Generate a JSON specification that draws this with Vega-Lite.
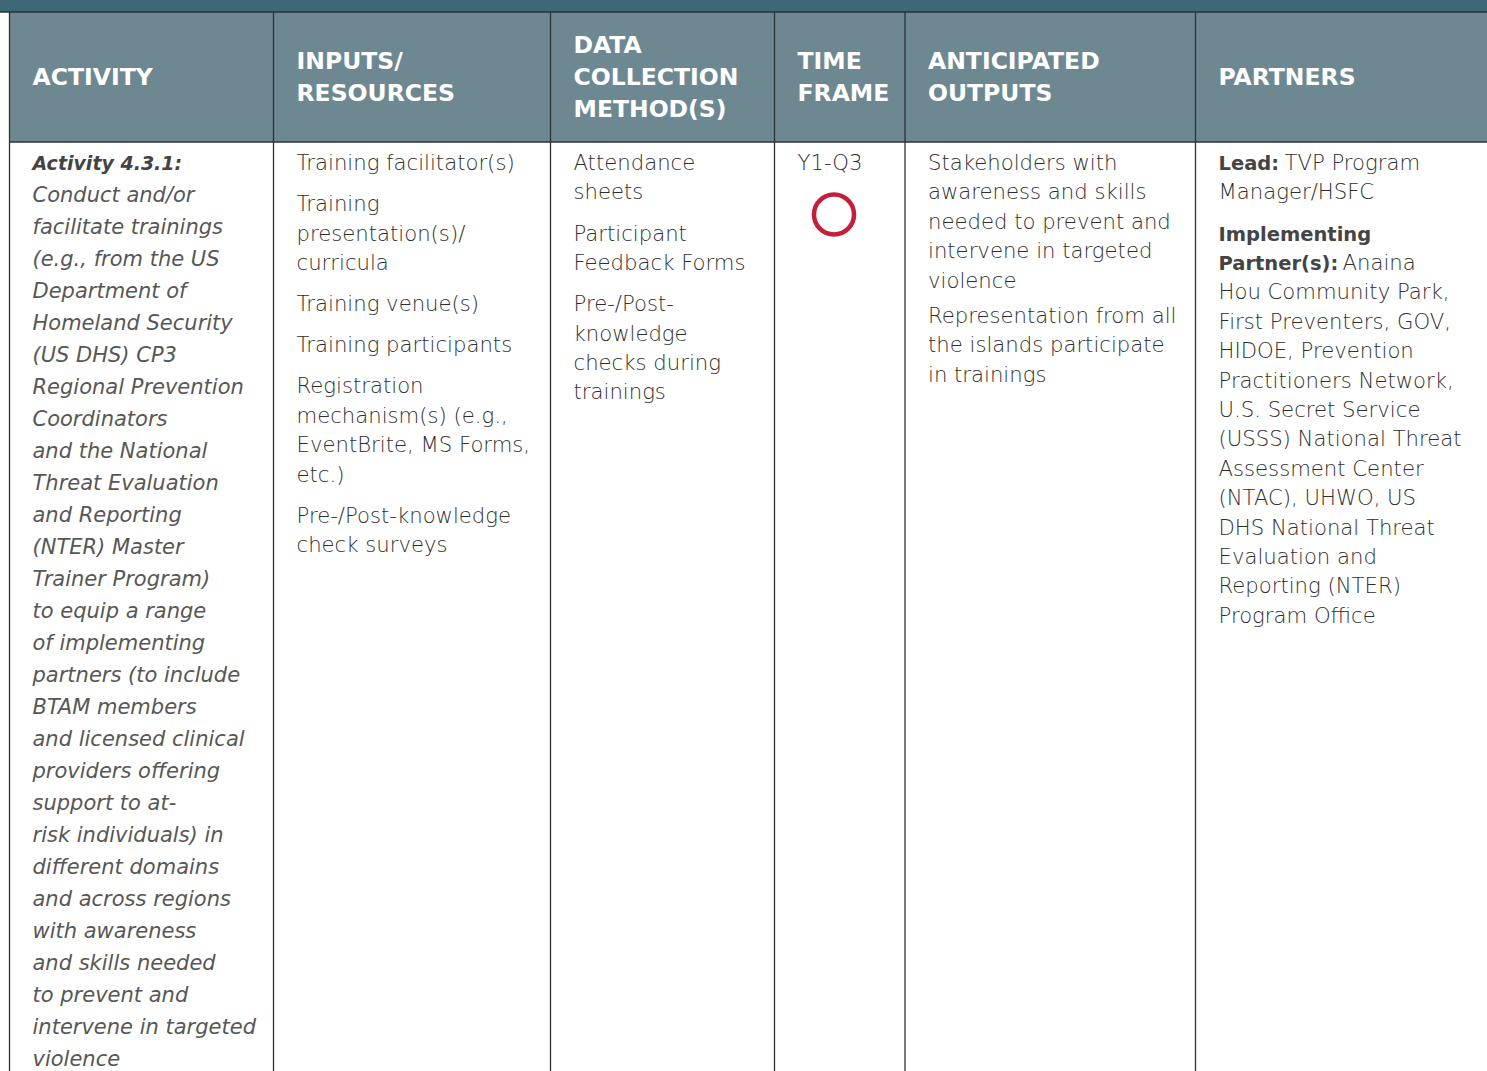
{
"$schema": "https://vega.github.io/schema/vega-lite/v6.json",
"width": 1487, "height": 1071, "padding": 0, "autosize": "none",
"background": "white",
"config": {"view": {"stroke": null}},
"datasets": {
 "bands": [
  {"part": "title band", "col": 0, "col2": 7, "row": 0, "row2": 1},
  {"part": "header", "col": 1, "col2": 7, "row": 1, "row2": 2}
 ],
 "rules": [
  {"col": 0, "col2": 7, "row": 1, "row2": 1},
  {"col": 1, "col2": 7, "row": 2, "row2": 2},
  {"col": 1, "col2": 1, "row": 1, "row2": 3},
  {"col": 2, "col2": 2, "row": 1, "row2": 3},
  {"col": 3, "col2": 3, "row": 1, "row2": 3},
  {"col": 4, "col2": 4, "row": 1, "row2": 3},
  {"col": 5, "col2": 5, "row": 1, "row2": 3},
  {"col": 6, "col2": 6, "row": 1, "row2": 3}
 ],
 "header": [
  {"col": 1, "line": 1, "text": "ACTIVITY"},
  {"col": 2, "line": 0.5, "text": "INPUTS/"},
  {"col": 2, "line": 1.5, "text": "RESOURCES"},
  {"col": 3, "line": 0, "text": "DATA"},
  {"col": 3, "line": 1, "text": "COLLECTION"},
  {"col": 3, "line": 2, "text": "METHOD(S)"},
  {"col": 4, "line": 0.5, "text": "TIME"},
  {"col": 4, "line": 1.5, "text": "FRAME"},
  {"col": 5, "line": 0.5, "text": "ANTICIPATED"},
  {"col": 5, "line": 1.5, "text": "OUTPUTS"},
  {"col": 6, "line": 1, "text": "PARTNERS"}
 ],
 "activityLead": [{"col": 1, "line": 0, "text": "Activity 4.3.1:"}],
 "activity": [
  {"col": 1, "line": 1, "text": "Conduct and/or"},
  {"col": 1, "line": 2, "text": "facilitate trainings"},
  {"col": 1, "line": 3, "text": "(e.g., from the US"},
  {"col": 1, "line": 4, "text": "Department of"},
  {"col": 1, "line": 5, "text": "Homeland Security"},
  {"col": 1, "line": 6, "text": "(US DHS) CP3"},
  {"col": 1, "line": 7, "text": "Regional Prevention"},
  {"col": 1, "line": 8, "text": "Coordinators"},
  {"col": 1, "line": 9, "text": "and the National"},
  {"col": 1, "line": 10, "text": "Threat Evaluation"},
  {"col": 1, "line": 11, "text": "and Reporting"},
  {"col": 1, "line": 12, "text": "(NTER) Master"},
  {"col": 1, "line": 13, "text": "Trainer Program)"},
  {"col": 1, "line": 14, "text": "to equip a range"},
  {"col": 1, "line": 15, "text": "of implementing"},
  {"col": 1, "line": 16, "text": "partners (to include"},
  {"col": 1, "line": 17, "text": "BTAM members"},
  {"col": 1, "line": 18, "text": "and licensed clinical"},
  {"col": 1, "line": 19, "text": "providers offering"},
  {"col": 1, "line": 20, "text": "support to at-"},
  {"col": 1, "line": 21, "text": "risk individuals) in"},
  {"col": 1, "line": 22, "text": "different domains"},
  {"col": 1, "line": 23, "text": "and across regions"},
  {"col": 1, "line": 24, "text": "with awareness"},
  {"col": 1, "line": 25, "text": "and skills needed"},
  {"col": 1, "line": 26, "text": "to prevent and"},
  {"col": 1, "line": 27, "text": "intervene in targeted"},
  {"col": 1, "line": 28, "text": "violence"}
 ],
 "body": [
  {"col": 2, "line": 0, "text": "Training facilitator(s)"},
  {"col": 2, "line": 1.4, "text": "Training"},
  {"col": 2, "line": 2.4, "text": "presentation(s)/"},
  {"col": 2, "line": 3.4, "text": "curricula"},
  {"col": 2, "line": 4.8, "text": "Training venue(s)"},
  {"col": 2, "line": 6.2, "text": "Training participants"},
  {"col": 2, "line": 7.6, "text": "Registration"},
  {"col": 2, "line": 8.6, "text": "mechanism(s) (e.g.,"},
  {"col": 2, "line": 9.6, "text": "EventBrite, MS Forms,"},
  {"col": 2, "line": 10.6, "text": "etc.)"},
  {"col": 2, "line": 12, "text": "Pre-/Post-knowledge"},
  {"col": 2, "line": 13, "text": "check surveys"},
  {"col": 3, "line": 0, "text": "Attendance"},
  {"col": 3, "line": 1, "text": "sheets"},
  {"col": 3, "line": 2.4, "text": "Participant"},
  {"col": 3, "line": 3.4, "text": "Feedback Forms"},
  {"col": 3, "line": 4.8, "text": "Pre-/Post-"},
  {"col": 3, "line": 5.8, "text": "knowledge"},
  {"col": 3, "line": 6.8, "text": "checks during"},
  {"col": 3, "line": 7.8, "text": "trainings"},
  {"col": 4, "line": 0, "text": "Y1-Q3"},
  {"col": 5, "line": 0, "text": "Stakeholders with"},
  {"col": 5, "line": 1, "text": "awareness and skills"},
  {"col": 5, "line": 2, "text": "needed to prevent and"},
  {"col": 5, "line": 3, "text": "intervene in targeted"},
  {"col": 5, "line": 4, "text": "violence"},
  {"col": 5, "line": 5.2, "text": "Representation from all"},
  {"col": 5, "line": 6.2, "text": "the islands participate"},
  {"col": 5, "line": 7.2, "text": "in trainings"},
  {"col": 6, "line": 1, "text": "Manager/HSFC"},
  {"col": 6, "line": 4.4, "text": "Hou Community Park,"},
  {"col": 6, "line": 5.4, "text": "First Preventers, GOV,"},
  {"col": 6, "line": 6.4, "text": "HIDOE, Prevention"},
  {"col": 6, "line": 7.4, "text": "Practitioners Network,"},
  {"col": 6, "line": 8.4, "text": "U.S. Secret Service"},
  {"col": 6, "line": 9.4, "text": "(USSS) National Threat"},
  {"col": 6, "line": 10.4, "text": "Assessment Center"},
  {"col": 6, "line": 11.4, "text": "(NTAC), UHWO, US"},
  {"col": 6, "line": 12.4, "text": "DHS National Threat"},
  {"col": 6, "line": 13.4, "text": "Evaluation and"},
  {"col": 6, "line": 14.4, "text": "Reporting (NTER)"},
  {"col": 6, "line": 15.4, "text": "Program Office"}
 ],
 "bold": [
  {"col": 6, "line": 0, "text": "Lead:"},
  {"col": 6, "line": 2.4, "text": "Implementing"},
  {"col": 6, "line": 3.4, "text": "Partner(s):"}
 ],
 "leadRest": [{"col": 6, "line": 0, "text": "TVP Program"}],
 "partnerRest": [{"col": 6, "line": 3.4, "text": "Anaina"}],
 "status": [{"col": 4, "line": 0, "status": "Y1-Q3 planned"}]
},
"resolve": {"scale": {"y": "independent"}},
"layer": [
 {
  "data": {"name": "bands"},
  "mark": {"type": "rect"},
  "encoding": {
   "x": {"field": "col", "type": "quantitative", "scale": {"domain": [0,1,2,3,4,5,6,7], "range": [0,9.5,273.5,550.5,774.5,905,1195.5,1487], "zero": false, "nice": false}, "axis": null},
   "x2": {"field": "col2"},
   "y": {"field": "row", "type": "quantitative", "scale": {"domain": [0,1,2,3], "range": [0,12,142,1071], "zero": false, "nice": false}, "axis": null},
   "y2": {"field": "row2"},
   "color": {"field": "part", "type": "nominal", "scale": {"domain": ["title band", "header"], "range": ["#3d6876", "#6e8892"]}, "legend": null}
  }
 },
 {
  "data": {"name": "rules"},
  "mark": {"type": "rule", "color": "#2e3235", "strokeWidth": 1.3},
  "encoding": {
   "x": {"field": "col", "type": "quantitative", "scale": {"domain": [0,1,2,3,4,5,6,7], "range": [0,9.5,273.5,550.5,774.5,905,1195.5,1487], "zero": false, "nice": false}, "axis": null},
   "x2": {"field": "col2"},
   "y": {"field": "row", "type": "quantitative", "scale": {"domain": [0,1,2,3], "range": [0,12,142,1071], "zero": false, "nice": false}, "axis": null},
   "y2": {"field": "row2"}
  }
 },
 {
  "data": {"name": "header"},
  "mark": {"type": "text", "align": "left", "baseline": "middle", "dx": 23, "font": "DejaVu Sans", "fontWeight": "bold", "fontSize": 23.5, "fill": "#ffffff"},
  "encoding": {
   "x": {"field": "col", "type": "quantitative", "scale": {"domain": [0,1,2,3,4,5,6,7], "range": [0,9.5,273.5,550.5,774.5,905,1195.5,1487], "zero": false, "nice": false}, "axis": null},
   "y": {"field": "line", "type": "quantitative", "scale": {"domain": [0,1], "range": [46,78], "zero": false, "nice": false}, "axis": null},
   "text": {"field": "text"}
  }
 },
 {
  "data": {"name": "activityLead"},
  "mark": {"type": "text", "align": "left", "baseline": "middle", "dx": 23, "font": "DejaVu Sans", "fontStyle": "italic", "fontWeight": "bold", "fontSize": 19, "fill": "#444444"},
  "encoding": {
   "x": {"field": "col", "type": "quantitative", "scale": {"domain": [0,1,2,3,4,5,6,7], "range": [0,9.5,273.5,550.5,774.5,905,1195.5,1487], "zero": false, "nice": false}, "axis": null},
   "y": {"field": "line", "type": "quantitative", "scale": {"domain": [0,1], "range": [164,196], "zero": false, "nice": false}, "axis": null},
   "text": {"field": "text"}
  }
 },
 {
  "data": {"name": "activity"},
  "mark": {"type": "text", "align": "left", "baseline": "middle", "dx": 23, "font": "DejaVu Sans", "fontStyle": "italic", "fontWeight": 200, "fontSize": 21, "fill": "#575757"},
  "encoding": {
   "x": {"field": "col", "type": "quantitative", "scale": {"domain": [0,1,2,3,4,5,6,7], "range": [0,9.5,273.5,550.5,774.5,905,1195.5,1487], "zero": false, "nice": false}, "axis": null},
   "y": {"field": "line", "type": "quantitative", "scale": {"domain": [0,1], "range": [164,196], "zero": false, "nice": false}, "axis": null},
   "text": {"field": "text"}
  }
 },
 {
  "data": {"name": "body"},
  "mark": {"type": "text", "align": "left", "baseline": "middle", "dx": 23, "font": "DejaVu Sans", "fontWeight": 200, "fontSize": 21.2, "fill": "#2e2e2e"},
  "encoding": {
   "x": {"field": "col", "type": "quantitative", "scale": {"domain": [0,1,2,3,4,5,6,7], "range": [0,9.5,273.5,550.5,774.5,905,1195.5,1487], "zero": false, "nice": false}, "axis": null},
   "y": {"field": "line", "type": "quantitative", "scale": {"domain": [0,1], "range": [164,193.4], "zero": false, "nice": false}, "axis": null},
   "text": {"field": "text"}
  }
 },
 {
  "data": {"name": "bold"},
  "mark": {"type": "text", "align": "left", "baseline": "middle", "dx": 23, "font": "DejaVu Sans", "fontWeight": "bold", "fontSize": 19.5, "fill": "#444444"},
  "encoding": {
   "x": {"field": "col", "type": "quantitative", "scale": {"domain": [0,1,2,3,4,5,6,7], "range": [0,9.5,273.5,550.5,774.5,905,1195.5,1487], "zero": false, "nice": false}, "axis": null},
   "y": {"field": "line", "type": "quantitative", "scale": {"domain": [0,1], "range": [164,193.4], "zero": false, "nice": false}, "axis": null},
   "text": {"field": "text"}
  }
 },
 {
  "data": {"name": "leadRest"},
  "mark": {"type": "text", "align": "left", "baseline": "middle", "dx": 89, "font": "DejaVu Sans", "fontWeight": 200, "fontSize": 21.2, "fill": "#2e2e2e"},
  "encoding": {
   "x": {"field": "col", "type": "quantitative", "scale": {"domain": [0,1,2,3,4,5,6,7], "range": [0,9.5,273.5,550.5,774.5,905,1195.5,1487], "zero": false, "nice": false}, "axis": null},
   "y": {"field": "line", "type": "quantitative", "scale": {"domain": [0,1], "range": [164,193.4], "zero": false, "nice": false}, "axis": null},
   "text": {"field": "text"}
  }
 },
 {
  "data": {"name": "partnerRest"},
  "mark": {"type": "text", "align": "left", "baseline": "middle", "dx": 147, "font": "DejaVu Sans", "fontWeight": 200, "fontSize": 21.2, "fill": "#2e2e2e"},
  "encoding": {
   "x": {"field": "col", "type": "quantitative", "scale": {"domain": [0,1,2,3,4,5,6,7], "range": [0,9.5,273.5,550.5,774.5,905,1195.5,1487], "zero": false, "nice": false}, "axis": null},
   "y": {"field": "line", "type": "quantitative", "scale": {"domain": [0,1], "range": [164,193.4], "zero": false, "nice": false}, "axis": null},
   "text": {"field": "text"}
  }
 },
 {
  "data": {"name": "status"},
  "mark": {"type": "point", "shape": "circle", "filled": false, "stroke": "#c41e3a", "strokeWidth": 4.5, "size": 1600, "opacity": 1, "xOffset": 59.5, "yOffset": 50.5},
  "encoding": {
   "x": {"field": "col", "type": "quantitative", "scale": {"domain": [0,1,2,3,4,5,6,7], "range": [0,9.5,273.5,550.5,774.5,905,1195.5,1487], "zero": false, "nice": false}, "axis": null},
   "y": {"field": "line", "type": "quantitative", "scale": {"domain": [0,1], "range": [164,193.4], "zero": false, "nice": false}, "axis": null}
  }
 }
]
}
